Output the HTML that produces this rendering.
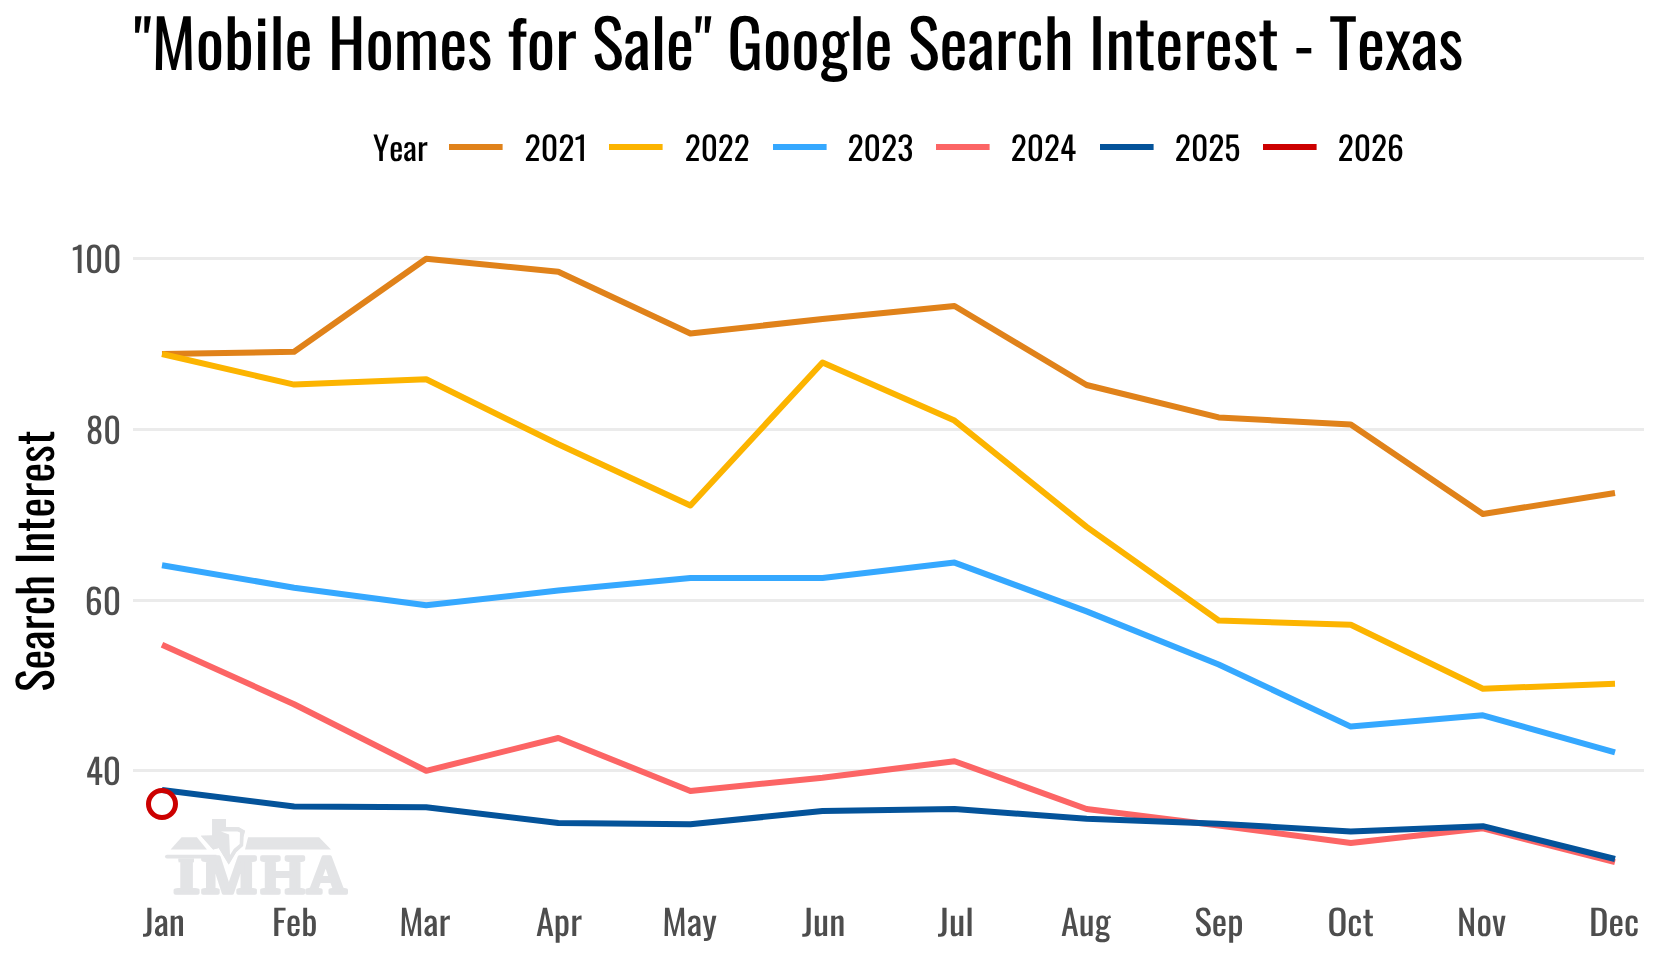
<!DOCTYPE html><html><head><meta charset="utf-8"><title>Mobile Homes for Sale Google Search Interest - Texas</title>
<style>html,body{margin:0;padding:0;background:#fff;width:1660px;height:960px;overflow:hidden}svg{display:block;will-change:transform}text{font-family:'Oswald', 'Liberation Sans', sans-serif;text-rendering:geometricPrecision;font-kerning:none}</style></head><body>
<svg width="1660" height="960" viewBox="0 0 1660 960">
<rect width="1660" height="960" fill="#fff"/>
<rect x="133" y="257" width="1511" height="3" fill="#EBEBEB"/>
<rect x="133" y="428" width="1511" height="3" fill="#EBEBEB"/>
<rect x="133" y="599" width="1511" height="3" fill="#EBEBEB"/>
<rect x="133" y="769" width="1511" height="3" fill="#EBEBEB"/>
<defs><clipPath id="tclip"><rect x="178.5" y="858.4" width="15.5" height="30"/><rect x="168" y="883" width="38" height="14"/></clipPath></defs>
<g fill="#E3E4E6">
<path d="M167,854.7 L216.5,854.7 L216.5,858.4 L167,858.4 Q165,858.4 165,856.55 Q165,854.7 167,854.7 Z"/>
<polygon points="181.6,837.3 196.9,837.3 206.9,849.5 170.6,849.5"/>
<polygon points="248.1,837.3 319.1,837.3 331,849.5 245,849.5"/>
<text clip-path="url(#tclip)" x="165.15" y="892.50" font-size="50.14" style="font-family:Domine,'DejaVu Serif',serif;font-weight:700" textLength="42.69" lengthAdjust="spacingAndGlyphs" stroke="#E3E4E6" stroke-width="3.4" stroke-linejoin="round">T</text>
<text x="200.82" y="892.50" font-size="50.14" style="font-family:Domine,'DejaVu Serif',serif;font-weight:700" textLength="56.60" lengthAdjust="spacingAndGlyphs" stroke="#E3E4E6" stroke-width="3.4" stroke-linejoin="round">M</text>
<text x="259.70" y="892.50" font-size="50.14" style="font-family:Domine,'DejaVu Serif',serif;font-weight:700" textLength="45.81" lengthAdjust="spacingAndGlyphs" stroke="#E3E4E6" stroke-width="3.4" stroke-linejoin="round">H</text>
<text x="307.87" y="892.50" font-size="49.47" style="font-family:Domine,'DejaVu Serif',serif;font-weight:700" textLength="37.93" lengthAdjust="spacingAndGlyphs" stroke="#E3E4E6" stroke-width="3.4" stroke-linejoin="round">A</text>
<polygon points="212.2,818.9 225.9,818.9 225.9,827 238.75,827.3 245,830.75 243.4,837 243.1,845.75 236.25,852 228.75,864.5 218.75,848 213.1,849.5 200.9,835.75 212.2,835.4" stroke="#fff" stroke-width="3" stroke-linejoin="round" paint-order="stroke"/>
<polygon points="212.2,818.9 225.9,818.9 225.9,827 238.75,827.3 245,830.75 243.4,837 243.1,845.75 236.25,852 228.75,864.5 218.75,848 213.1,849.5 200.9,835.75 212.2,835.4"/>
<polygon points="220.9,831.4 237.5,831.4 240,832.6 239.7,843.9 233.75,848.9 230,855.1 229.1,834.5" fill="#fff"/>
</g>
<polyline points="162.0,354 294.1,351.8 426.2,258.7 558.3,271.8 690.4,333.5 822.5,319 954.5,306 1086.6,385 1218.7,417.4 1350.8,424.5 1482.9,514 1615.0,493" fill="none" stroke="#E0821A" stroke-width="6" stroke-linejoin="round" stroke-linecap="butt"/>
<polyline points="162.0,354 294.1,384.6 426.2,379.3 558.3,444.3 690.4,505.5 822.5,362.5 954.5,420.6 1086.6,526.9 1218.7,620.5 1350.8,624.8 1482.9,688.7 1615.0,683.8" fill="none" stroke="#FCB400" stroke-width="6" stroke-linejoin="round" stroke-linecap="butt"/>
<polyline points="162.0,565.2 294.1,587.7 426.2,605.3 558.3,590.6 690.4,578 822.5,578 954.5,562.6 1086.6,611.4 1218.7,664.5 1350.8,726.6 1482.9,715.3 1615.0,752.4" fill="none" stroke="#35A8FF" stroke-width="6" stroke-linejoin="round" stroke-linecap="butt"/>
<polyline points="162.0,644.8 294.1,704.2 426.2,770.8 558.3,738 690.4,791 822.5,777.7 954.5,761.2 1086.6,809 1218.7,825.5 1350.8,843 1482.9,828.3 1615.0,862.2" fill="none" stroke="#FC6565" stroke-width="6" stroke-linejoin="round" stroke-linecap="butt"/>
<polyline points="162.0,790 294.1,806.4 426.2,807.2 558.3,822.9 690.4,824.3 822.5,811 954.5,808.9 1086.6,818.8 1218.7,823.8 1350.8,831.4 1482.9,826.2 1615.0,859" fill="none" stroke="#04539A" stroke-width="6" stroke-linejoin="round" stroke-linecap="butt"/>
<circle cx="162" cy="804" r="13.5" fill="none" stroke="#CC0000" stroke-width="5"/>
<text x="121.35" y="272.70" font-size="35.00" fill="#4D4D4D" text-anchor="end" textLength="49.65" lengthAdjust="spacingAndGlyphs">100</text>
<text x="120.99" y="443.70" font-size="35.00" fill="#4D4D4D" text-anchor="end" textLength="35.04" lengthAdjust="spacingAndGlyphs">80</text>
<text x="121.24" y="614.70" font-size="35.00" fill="#4D4D4D" text-anchor="end" textLength="36.38" lengthAdjust="spacingAndGlyphs">60</text>
<text x="121.13" y="784.70" font-size="35.00" fill="#4D4D4D" text-anchor="end" textLength="35.46" lengthAdjust="spacingAndGlyphs">40</text>
<text x="163.92" y="936.20" font-size="35.00" fill="#4D4D4D" text-anchor="middle" textLength="42.10" lengthAdjust="spacingAndGlyphs">Jan</text>
<text x="294.63" y="936.20" font-size="35.00" fill="#4D4D4D" text-anchor="middle" textLength="45.43" lengthAdjust="spacingAndGlyphs">Feb</text>
<text x="424.78" y="936.20" font-size="35.00" fill="#4D4D4D" text-anchor="middle" textLength="51.06" lengthAdjust="spacingAndGlyphs">Mar</text>
<text x="558.91" y="936.20" font-size="35.00" fill="#4D4D4D" text-anchor="middle" textLength="46.01" lengthAdjust="spacingAndGlyphs">Apr</text>
<text x="689.55" y="936.20" font-size="35.00" fill="#4D4D4D" text-anchor="middle" textLength="54.37" lengthAdjust="spacingAndGlyphs">May</text>
<text x="823.68" y="936.20" font-size="35.00" fill="#4D4D4D" text-anchor="middle" textLength="43.28" lengthAdjust="spacingAndGlyphs">Jun</text>
<text x="955.79" y="936.20" font-size="35.00" fill="#4D4D4D" text-anchor="middle" textLength="35.97" lengthAdjust="spacingAndGlyphs">Jul</text>
<text x="1085.78" y="936.20" font-size="35.00" fill="#4D4D4D" text-anchor="middle" textLength="49.56" lengthAdjust="spacingAndGlyphs">Aug</text>
<text x="1219.07" y="936.20" font-size="35.00" fill="#4D4D4D" text-anchor="middle" textLength="49.02" lengthAdjust="spacingAndGlyphs">Sep</text>
<text x="1350.64" y="936.20" font-size="35.00" fill="#4D4D4D" text-anchor="middle" textLength="46.23" lengthAdjust="spacingAndGlyphs">Oct</text>
<text x="1481.57" y="936.20" font-size="35.00" fill="#4D4D4D" text-anchor="middle" textLength="48.95" lengthAdjust="spacingAndGlyphs">Nov</text>
<text x="1614.17" y="936.20" font-size="35.00" fill="#4D4D4D" text-anchor="middle" textLength="50.24" lengthAdjust="spacingAndGlyphs">Dec</text>
<text transform="translate(53.75,561.19) rotate(-90)" font-size="47.34" fill="#000" text-anchor="middle" textLength="261.13" lengthAdjust="spacingAndGlyphs">Search Interest</text>
<text x="133.89" y="69.73" font-size="66.45" fill="#000" text-anchor="start" textLength="1329.43" lengthAdjust="spacingAndGlyphs">"Mobile Homes for Sale" Google Search Interest - Texas</text>
<text x="373.09" y="160.90" font-size="32.65" fill="#000" text-anchor="start" textLength="54.60" lengthAdjust="spacingAndGlyphs">Year</text>
<rect x="449.0" y="144" width="53.6" height="6" fill="#E0821A"/>
<text x="524.58" y="160.90" font-size="32.65" fill="#000" text-anchor="start" textLength="62.79" lengthAdjust="spacingAndGlyphs">2021</text>
<rect x="609.0" y="144" width="53.6" height="6" fill="#FCB400"/>
<text x="684.72" y="160.90" font-size="32.65" fill="#000" text-anchor="start" textLength="64.94" lengthAdjust="spacingAndGlyphs">2022</text>
<rect x="773.0" y="144" width="53.6" height="6" fill="#35A8FF"/>
<text x="847.49" y="160.90" font-size="32.65" fill="#000" text-anchor="start" textLength="65.82" lengthAdjust="spacingAndGlyphs">2023</text>
<rect x="936.0" y="144" width="53.6" height="6" fill="#FC6565"/>
<text x="1010.81" y="160.90" font-size="32.65" fill="#000" text-anchor="start" textLength="65.20" lengthAdjust="spacingAndGlyphs">2024</text>
<rect x="1100.0" y="144" width="53.6" height="6" fill="#04539A"/>
<text x="1174.80" y="160.90" font-size="32.65" fill="#000" text-anchor="start" textLength="65.59" lengthAdjust="spacingAndGlyphs">2025</text>
<rect x="1263.0" y="144" width="53.6" height="6" fill="#CC0000"/>
<text x="1337.81" y="160.90" font-size="32.65" fill="#000" text-anchor="start" textLength="66.16" lengthAdjust="spacingAndGlyphs">2026</text>
</svg></body></html>
